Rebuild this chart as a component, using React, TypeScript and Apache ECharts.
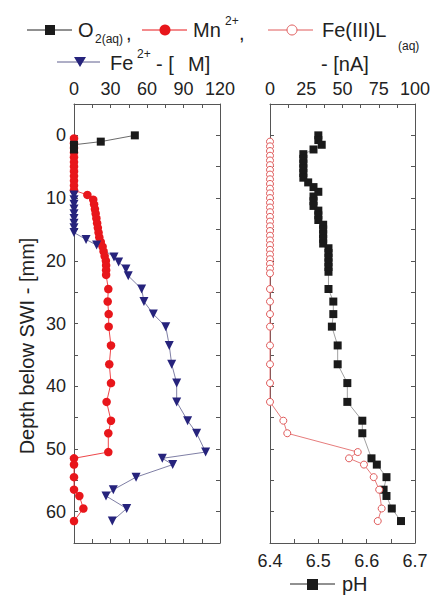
import React, { useEffect, useRef } from "react";
import * as echarts from "echarts";

// ---------- data (depth in mm below SWI) ----------
const O2_DEPTH = [0, 1, 1.5, 2.25];
const O2_UM = [50, 22, 0, 0];

const MN_DEPTH = [0.5, 1.25, 2, 2.75, 3.5, 4.25, 5, 5.75, 6.5, 7.25, 8, 8.75, 9.5, 10.25, 11, 11.75, 12.5, 13.25, 14, 14.75, 15.5, 16.25, 17, 17.75, 18.5, 19.25, 20, 20.75, 21.5, 22.25, 24.5, 26.5, 28.5, 30.5, 33.5, 36.5, 39.5, 42.5, 45.5, 47.5, 50.5, 51.5, 52.5, 54.5, 56.5, 57.5, 59.5, 61.5];
const MN_UM = [0, 0, 0, 0, 0, 0, 0, 0, 0, 0, 0, 0, 11, 15.8, 16.5, 17.2, 17.8, 18.4, 19, 19.6, 20.2, 20.8, 22, 23.5, 24.3, 25.2, 26.2, 26.4, 26.4, 26.4, 28.2, 27.7, 28.5, 28.5, 30.4, 29, 30.4, 26.8, 30.4, 28.2, 28.2, 0, 0, 0, 0, 4.4, 7.7, 0];

const FE2_DEPTH = [9.5, 10.25, 11, 11.75, 12.5, 13.25, 14, 14.75, 15.5, 16.6, 17.5, 19.4, 20.2, 21.3, 22.4, 24.5, 26.5, 28.5, 30.5, 33.5, 36.5, 39.5, 42.5, 45.5, 47.5, 50.5, 51.5, 52.5, 54.5, 56.5, 57.5, 59.5, 61.5];
const FE2_UM = [0, 0, 0, 0, 0, 0, 0, 0, 0, 9.9, 18.6, 32.9, 36.7, 42.7, 44.6, 55.6, 57.5, 65.2, 75.4, 78.3, 80.3, 84.4, 84.4, 93.4, 100.8, 108.2, 72.6, 81.1, 51, 32.3, 26.3, 43.3, 31.5];

const FEL_DEPTH = [1, 1.75, 2.5, 3.25, 4, 4.75, 5.5, 6.25, 7, 7.75, 8.5, 9.25, 10, 10.75, 11.5, 12.25, 13, 13.75, 14.5, 15.25, 16, 16.75, 17.5, 18.25, 19, 19.75, 20.5, 21.25, 22, 24.5, 26.5, 28.5, 30.5, 33.5, 36.5, 39.5, 42.5, 45.5, 47.5, 50.5, 51.5, 52.5, 54.5, 56.5, 59.5, 61.5];
const FEL_NA = [0, 0, 0, 0, 0, 0, 0, 0, 0, 0, 0, 0, 0, 0, 0, 0, 0, 0, 0, 0, 0, 0, 0, 0, 0, 0, 0, 0, 0, 0, 0, 0, 0, 0, 0, 0, 0, 9.2, 11.9, 60.5, 54.5, 64.8, 71.5, 75.3, 77, 74.3];

const PH_DEPTH = [0, 0.75, 1.5, 2.25, 3, 3.75, 4.5, 5.25, 6, 6.75, 7.5, 8.25, 9, 9.75, 10.5, 11.25, 12, 12.75, 13.5, 14.25, 15, 15.75, 16.5, 17.25, 18, 18.75, 19.5, 20.25, 21, 21.75, 24.5, 26.5, 28.5, 30.5, 33.5, 36.5, 39.5, 42.5, 45.5, 47.5, 51.5, 52.5, 54.5, 56.5, 57.5, 59.5, 61.5];
const PH_VAL = [6.5, 6.5, 6.507, 6.49, 6.469, 6.469, 6.469, 6.469, 6.469, 6.469, 6.479, 6.49, 6.5, 6.49, 6.49, 6.49, 6.5, 6.5, 6.5, 6.51, 6.51, 6.51, 6.51, 6.51, 6.521, 6.521, 6.521, 6.521, 6.521, 6.521, 6.521, 6.531, 6.531, 6.528, 6.54, 6.54, 6.56, 6.56, 6.591, 6.591, 6.61, 6.621, 6.641, 6.635, 6.641, 6.652, 6.671];

const CONC_TICKS = [0, 30, 60, 90, 120];
const NA_TICKS = [0, 25, 50, 75, 100];
const DEPTH_TICKS = [0, 10, 20, 30, 40, 50, 60];
const PH_TICKS = ["6.4", "6.5", "6.6", "6.7"];

const zip = (xs: number[], ys: number[]) => xs.map((x, i) => [x, ys[i]]);

const FONT = "'Liberation Sans', Arial, Helvetica, sans-serif";
const AX = "#555";
const TXT = "#222";

export default function App() {
  const ref = useRef<HTMLDivElement>(null);
  useEffect(() => {
    if (!ref.current) return;
    const chart = echarts.init(ref.current, undefined, { renderer: "svg" });

    const axisCommon = {
      type: "value" as const,
      axisLine: { show: true, onZero: false, lineStyle: { color: AX, width: 1 } },
      axisTick: { show: true, inside: true, length: 4, lineStyle: { color: AX } },
      splitLine: { show: false },
    };
    const lbl = (fmt: (v: number) => string, show = true, margin = 6) => ({
      show,
      formatter: fmt,
      fontSize: 18,
      color: TXT,
      fontFamily: FONT,
      margin,
    });

    const txt = (text: string, x: number, y: number, size: number, align = "left") => ({
      type: "text",
      x,
      y,
      style: { text, fontSize: size, fontFamily: FONT, fill: TXT, textAlign: align, textVerticalAlign: "middle" },
    });
    const hline = (x1: number, x2: number, y: number, color: string) => ({
      type: "line",
      shape: { x1, y1: y, x2, y2: y },
      style: { stroke: color, lineWidth: 1 },
    });

    chart.setOption({
      animation: false,
      backgroundColor: "#fff",
      grid: [
        { left: 74, top: 104, width: 146, height: 439 },
        { left: 270, top: 104, width: 145, height: 439 },
      ],
      xAxis: [
        {
          ...axisCommon, gridIndex: 0, position: "top", min: 0, max: 120, interval: 15,
          axisLabel: lbl((v) => (CONC_TICKS.includes(v) ? String(v) : "")),
        },
        {
          ...axisCommon, gridIndex: 0, position: "bottom", min: 0, max: 120, interval: 15,
          axisLabel: { show: false },
        },
        {
          ...axisCommon, gridIndex: 1, position: "top", min: 0, max: 100, interval: 12.5,
          axisLabel: lbl((v) => (NA_TICKS.includes(v) ? String(v) : "")),
        },
        {
          ...axisCommon, gridIndex: 1, position: "bottom", min: 6.4, max: 6.7, interval: 0.05,
          axisLabel: lbl((v) => {
            const s = v.toFixed(2);
            const t = v.toFixed(1);
            return PH_TICKS.includes(t) && s.endsWith("0") ? t : "";
          }, true, 9),
        },
      ],
      yAxis: [
        {
          ...axisCommon, gridIndex: 0, position: "left", inverse: true, min: -5, max: 65, interval: 5,
          axisLabel: lbl((v) => (DEPTH_TICKS.includes(v) ? String(v) : ""), true, 8),
        },
        {
          ...axisCommon, gridIndex: 0, position: "right", inverse: true, min: -5, max: 65, interval: 5,
          axisLabel: { show: false },
        },
        {
          ...axisCommon, gridIndex: 1, position: "left", inverse: true, min: -5, max: 65, interval: 5,
          axisLabel: { show: false },
        },
        {
          ...axisCommon, gridIndex: 1, position: "right", inverse: true, min: -5, max: 65, interval: 5,
          axisLabel: { show: false },
        },
      ],
      series: [
        {
          name: "Mn2+", type: "line", xAxisIndex: 0, yAxisIndex: 0,
          data: zip(MN_UM, MN_DEPTH), symbol: "circle", symbolSize: 8.5, showAllSymbol: true,
          itemStyle: { color: "#e8161b" }, lineStyle: { color: "#e8161b", width: 0.8 },
        },
        {
          name: "Fe2+", type: "line", xAxisIndex: 0, yAxisIndex: 0,
          data: zip(FE2_UM, FE2_DEPTH), symbol: "triangle", symbolRotate: 180, symbolSize: 9, showAllSymbol: true,
          itemStyle: { color: "#26237c" }, lineStyle: { color: "#5e5e8e", width: 0.8 },
        },
        {
          name: "O2", type: "line", xAxisIndex: 0, yAxisIndex: 0,
          data: zip(O2_UM, O2_DEPTH), symbol: "rect", symbolSize: 8, showAllSymbol: true,
          itemStyle: { color: "#1a1a1a" }, lineStyle: { color: "#444", width: 0.8 },
        },
        {
          name: "pH", type: "line", xAxisIndex: 3, yAxisIndex: 2,
          data: zip(PH_VAL, PH_DEPTH), symbol: "rect", symbolSize: 8, showAllSymbol: true,
          itemStyle: { color: "#1a1a1a" }, lineStyle: { color: "#888", width: 0.8 },
        },
        {
          name: "Fe(III)L", type: "line", xAxisIndex: 2, yAxisIndex: 2,
          data: zip(FEL_NA, FEL_DEPTH), symbol: "circle", symbolSize: 7, showAllSymbol: true,
          itemStyle: { color: "#fff", borderColor: "#e05a5a", borderWidth: 1 },
          lineStyle: { color: "#e05a5a", width: 0.8 },
        },
      ],
      graphic: [
        // legend line 1
        hline(27, 72, 30, "#222"),
        { type: "rect", shape: { x: 45, y: 25, width: 10, height: 10 }, style: { fill: "#1a1a1a" } },
        txt("O", 78, 30, 20),
        txt("2(aq)", 95, 39, 12),
        txt(",", 126, 33, 20),
        hline(142, 187, 30, "#e8161b"),
        { type: "circle", shape: { cx: 165, cy: 30, r: 5.5 }, style: { fill: "#e8161b" } },
        txt("Mn", 193, 30, 20),
        txt("2+", 225, 21, 12),
        txt(",", 239, 33, 20),
        hline(268, 313, 30, "#e05a5a"),
        { type: "circle", shape: { cx: 292, cy: 30, r: 5 }, style: { fill: "#fff", stroke: "#e05a5a", lineWidth: 1 } },
        txt("Fe(III)L", 322, 30, 20),
        txt("(aq)", 398, 46, 12),
        // legend line 2
        hline(57, 100, 62, "#5e5e8e"),
        { type: "polygon", shape: { points: [[74, 57], [86, 57], [80, 67]] }, style: { fill: "#26237c" } },
        txt("Fe", 110, 63, 20),
        txt("2+", 137, 54, 12),
        txt("- [", 156, 64, 20),
        txt("M]", 188, 64, 20),
        txt("- [nA]", 321, 64, 20),
        // bottom legend
        hline(290, 335, 584, "#222"),
        { type: "rect", shape: { x: 307, y: 579, width: 11, height: 11 }, style: { fill: "#1a1a1a" } },
        txt("pH", 342, 584, 20),
        // y-axis title
        {
          type: "text", x: 27, y: 346, rotation: Math.PI / 2,
          style: { text: "Depth below SWI - [mm]", fontSize: 20, fontFamily: FONT, fill: TXT, textAlign: "center", textVerticalAlign: "middle" },
        },
      ],
    });
    return () => chart.dispose();
  }, []);
  return <div ref={ref} style={{ position: "fixed", left: 0, top: 0, width: 436, height: 600 }} />;
}
